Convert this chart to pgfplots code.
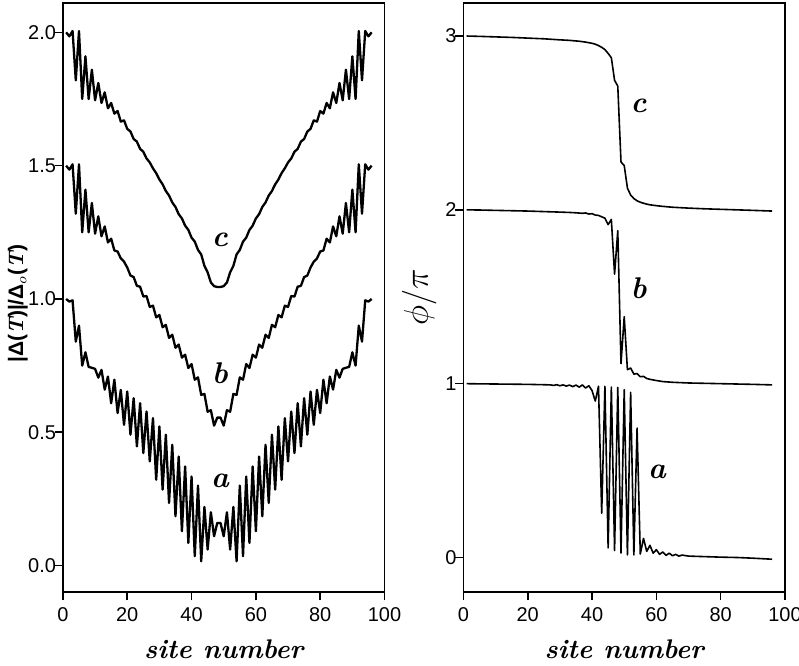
\documentclass[border=0pt]{standalone}
\usepackage{pgfplots}
\pgfplotsset{compat=1.18}
\usepackage{fontspec}
\newfontfamily\hv{Liberation Sans}
\begin{document}
\begin{tikzpicture}
\useasboundingbox (-31.5pt,-36.5pt) rectangle (368.5pt,296.5pt);
\pgfplotsset{
  every axis/.append style={
    scale only axis, width=161pt, height=295pt,
    xmin=0, xmax=100, xtick={0,20,...,100},
    axis line style={line width=0.9pt},
    tick style={line width=0.8pt, black},
    tick align=outside, xtick pos=left, ytick pos=left,
    major tick length=4pt,
    ticklabel style={font=\hv\fontsize{10}{12}\selectfont},
    yticklabel style={inner xsep=0.8pt, xshift=1.5pt},
    /pgf/number format/assume math mode=true,
    xlabel={\fontsize{13.5}{16}\selectfont\bfseries\itshape site number},
    xlabel style={yshift=-2.5pt},
    cycle list={{black, no markers}},
  },
}
% ---------------- left panel ----------------
\begin{axis}[at={(0pt,0pt)}, anchor=south west,
  ymin=-0.1, ymax=2.11, ytick={0,0.5,1,1.5,2},
  yticklabel style={/pgf/number format/.cd, fixed, fixed zerofill, precision=1},
  ylabel={\hv\fontsize{10.5}{12}\selectfont\bfseries |Δ({\rmfamily\itshape T})|/Δ$_{o}$({\rmfamily\itshape T})},
  ylabel style={at={(axis description cs:-0.14,0.49)}, anchor=center},
  every axis plot/.append style={line width=1.15pt, line join=round},
]
\addplot coordinates {(1,1.000)(2,0.990)(3,0.995)(4,0.840)(5,0.900)(6,0.750)(7,0.800)(8,0.745)(9,0.742)(10,0.738)(11,0.705)(12,0.734)(13,0.660)(14,0.709)(15,0.609)(16,0.697)(17,0.572)(18,0.659)(19,0.528)(20,0.653)(21,0.491)(22,0.628)(23,0.447)(24,0.609)(25,0.422)(26,0.578)(27,0.391)(28,0.553)(29,0.322)(30,0.522)(31,0.285)(32,0.491)(33,0.235)(34,0.453)(35,0.185)(36,0.409)(37,0.129)(38,0.372)(39,0.085)(40,0.334)(41,0.035)(42,0.300)(43,0.016)(44,0.220)(45,0.060)(46,0.200)(47,0.110)(48,0.160)(49,0.160)(50,0.110)(51,0.200)(52,0.060)(53,0.220)(54,0.016)(55,0.300)(56,0.035)(57,0.334)(58,0.085)(59,0.372)(60,0.129)(61,0.409)(62,0.185)(63,0.453)(64,0.235)(65,0.491)(66,0.285)(67,0.522)(68,0.322)(69,0.553)(70,0.391)(71,0.578)(72,0.422)(73,0.609)(74,0.447)(75,0.628)(76,0.491)(77,0.653)(78,0.528)(79,0.659)(80,0.572)(81,0.697)(82,0.609)(83,0.709)(84,0.660)(85,0.734)(86,0.705)(87,0.738)(88,0.742)(89,0.745)(90,0.800)(91,0.750)(92,0.900)(93,0.840)(94,0.995)(95,0.990)(96,1.000)};
\addplot coordinates {(1,1.500)(2,1.485)(3,1.505)(4,1.320)(5,1.505)(6,1.250)(7,1.410)(8,1.250)(9,1.360)(10,1.245)(11,1.310)(12,1.235)(13,1.272)(14,1.212)(15,1.226)(16,1.182)(17,1.178)(18,1.152)(19,1.140)(20,1.118)(21,1.088)(22,1.082)(23,1.049)(24,1.046)(25,1.009)(26,1.011)(27,0.970)(28,0.975)(29,0.931)(30,0.940)(31,0.894)(32,0.903)(33,0.854)(34,0.866)(35,0.817)(36,0.829)(37,0.780)(38,0.791)(39,0.741)(40,0.756)(41,0.697)(42,0.706)(43,0.640)(44,0.644)(45,0.577)(46,0.583)(47,0.525)(48,0.555)(49,0.555)(50,0.525)(51,0.583)(52,0.577)(53,0.644)(54,0.640)(55,0.706)(56,0.697)(57,0.756)(58,0.741)(59,0.791)(60,0.780)(61,0.829)(62,0.817)(63,0.866)(64,0.854)(65,0.903)(66,0.894)(67,0.940)(68,0.931)(69,0.975)(70,0.970)(71,1.011)(72,1.009)(73,1.046)(74,1.049)(75,1.082)(76,1.088)(77,1.118)(78,1.140)(79,1.152)(80,1.178)(81,1.182)(82,1.226)(83,1.212)(84,1.272)(85,1.235)(86,1.310)(87,1.245)(88,1.360)(89,1.250)(90,1.410)(91,1.250)(92,1.505)(93,1.320)(94,1.505)(95,1.485)(96,1.500)};
\addplot coordinates {(1,2.000)(2,1.985)(3,2.005)(4,1.820)(5,2.005)(6,1.750)(7,1.910)(8,1.750)(9,1.860)(10,1.745)(11,1.810)(12,1.735)(13,1.775)(14,1.715)(15,1.735)(16,1.695)(17,1.705)(18,1.665)(19,1.670)(20,1.638)(21,1.628)(22,1.600)(23,1.590)(24,1.563)(25,1.552)(26,1.527)(27,1.512)(28,1.490)(29,1.472)(30,1.448)(31,1.430)(32,1.405)(33,1.388)(34,1.362)(35,1.345)(36,1.318)(37,1.302)(38,1.275)(39,1.259)(40,1.230)(41,1.215)(42,1.184)(43,1.167)(44,1.124)(45,1.100)(46,1.062)(47,1.048)(48,1.045)(49,1.045)(50,1.048)(51,1.062)(52,1.100)(53,1.124)(54,1.167)(55,1.184)(56,1.215)(57,1.230)(58,1.259)(59,1.275)(60,1.302)(61,1.318)(62,1.345)(63,1.362)(64,1.388)(65,1.405)(66,1.430)(67,1.448)(68,1.472)(69,1.490)(70,1.512)(71,1.527)(72,1.552)(73,1.563)(74,1.590)(75,1.600)(76,1.628)(77,1.638)(78,1.670)(79,1.665)(80,1.705)(81,1.695)(82,1.735)(83,1.715)(84,1.775)(85,1.735)(86,1.810)(87,1.745)(88,1.860)(89,1.750)(90,1.910)(91,1.750)(92,2.005)(93,1.820)(94,2.005)(95,1.985)(96,2.000)};
\node[font=\fontsize{15}{18}\selectfont\bfseries\itshape] at (axis cs:48.8,1.221) {c};
\node[font=\fontsize{15}{18}\selectfont\bfseries\itshape] at (axis cs:48.8,0.723) {b};
\node[font=\fontsize{15}{18}\selectfont\bfseries\itshape] at (axis cs:48.8,0.316) {a};
\end{axis}
% ---------------- right panel ----------------
\begin{axis}[at={(200.5pt,0pt)}, anchor=south west,
  ymin=-0.2, ymax=3.19, ytick={0,1,2,3},
  ylabel={\fontsize{16}{18}\selectfont $\phi/\pi$},
  ylabel style={at={(axis description cs:-0.137,0.5)}, anchor=center},
  every axis plot/.append style={line width=0.8pt, line join=round},
]
\addplot coordinates {(1,1.000)(5,0.999)(10,0.998)(15,0.997)(20,0.996)(25,0.994)(27,0.993)(28,0.990)(29,0.994)(30,0.988)(31,0.993)(32,0.986)(33,0.992)(34,0.983)(35,0.992)(36,0.980)(37,0.993)(38,0.975)(39,0.988)(40,0.960)(41,0.900)(42,0.985)(43,0.255)(44,0.985)(45,0.055)(46,0.980)(47,0.040)(48,0.978)(49,0.025)(50,0.965)(51,0.015)(52,0.950)(53,0.015)(54,0.745)(55,0.020)(56,0.110)(57,0.035)(58,0.070)(59,0.025)(60,0.045)(61,0.018)(62,0.032)(63,0.012)(64,0.025)(65,0.010)(66,0.018)(67,0.008)(68,0.014)(70,0.008)(75,0.005)(80,0.002)(85,0.000)(90,-0.004)(96,-0.010)};
\addplot coordinates {(1,2.000)(5,1.999)(10,1.997)(15,1.995)(20,1.993)(25,1.990)(30,1.987)(33,1.985)(35,1.983)(37,1.980)(38,1.982)(39,1.976)(40,1.978)(41,1.970)(42,1.968)(43,1.960)(44,1.952)(45,1.915)(46,1.945)(47,1.630)(48,1.880)(49,1.115)(50,1.385)(51,1.080)(52,1.090)(53,1.055)(54,1.058)(55,1.040)(56,1.042)(57,1.030)(58,1.025)(60,1.018)(62,1.012)(65,1.008)(70,1.004)(75,1.002)(80,1.000)(85,0.998)(90,0.996)(96,0.993)};
\addplot coordinates {(1,3.000)(5,2.998)(10,2.995)(15,2.992)(20,2.988)(25,2.984)(30,2.978)(33,2.975)(36,2.970)(38,2.965)(40,2.958)(41,2.953)(42,2.945)(43,2.935)(44,2.922)(45,2.900)(46,2.875)(47,2.745)(48,2.712)(49,2.275)(50,2.255)(51,2.125)(52,2.085)(53,2.065)(54,2.052)(55,2.044)(56,2.038)(57,2.033)(58,2.029)(60,2.024)(62,2.020)(65,2.015)(70,2.010)(75,2.006)(80,2.003)(85,2.000)(90,1.997)(96,1.993)};
\node[font=\fontsize{15}{18}\selectfont\bfseries\itshape] at (axis cs:54.5,2.597) {c};
\node[font=\fontsize{15}{18}\selectfont\bfseries\itshape] at (axis cs:54.5,1.549) {b};
\node[font=\fontsize{15}{18}\selectfont\bfseries\itshape] at (axis cs:60.2,0.495) {a};
\end{axis}
\end{tikzpicture}
\end{document}
